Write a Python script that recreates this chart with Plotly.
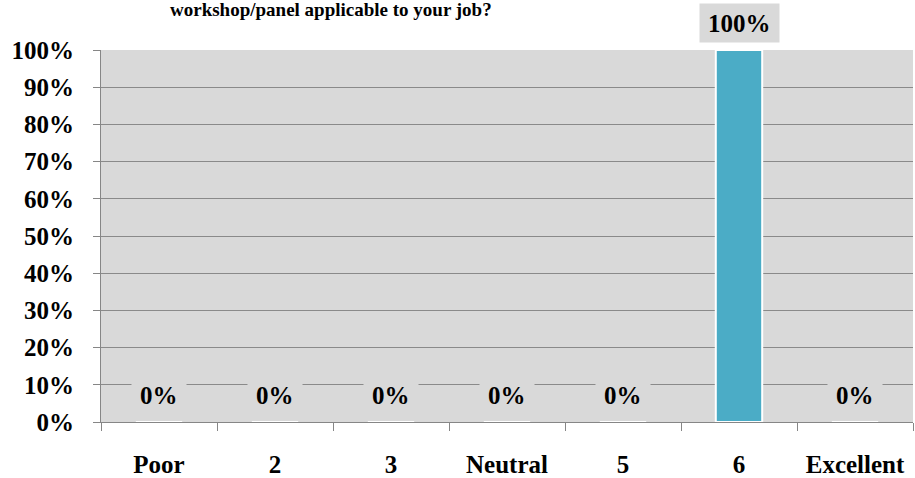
import plotly.graph_objects as go

categories = ["Poor", "2", "3", "Neutral", "5", "6", "Excellent"]
values = [0, 0, 0, 0, 0, 1.0, 0]
title_text = "workshop/panel applicable to your job?"

font_family = "Liberation Serif, Times New Roman, serif"

fig = go.Figure()
fig.add_trace(go.Bar(
    x=categories, y=values,
    marker=dict(color="#4BACC6", line=dict(color="white", width=2)),
    hoverinfo="skip",
))

for i, v in enumerate(values):
    fig.add_annotation(
        x=i, y=v, xref="x", yref="y",
        text=f"{v*100:.0f}%", showarrow=False,
        yanchor="middle", yshift=27,
        font=dict(family=font_family, size=25, color="black", weight="bold"),
        bgcolor="#D9D9D9", borderpad=8, height=22,
    )

fig.add_annotation(
    x=0.283, y=1.110, xref="paper", yref="paper",
    text=title_text, showarrow=False, xanchor="center", yanchor="middle",
    font=dict(family=font_family, size=19, color="black", weight="bold"),
)

fig.update_layout(
    width=915, height=478,
    margin=dict(l=101, r=2, t=50, b=56, autoexpand=False),
    paper_bgcolor="white", plot_bgcolor="#D9D9D9",
    bargap=0.6, showlegend=False,
)
fig.update_xaxes(
    type="category", tickson="boundaries", ticks="outside", ticklen=8,
    tickcolor="#868686", showline=True, linecolor="#868686", linewidth=1,
    showgrid=False, ticklabelstandoff=20, automargin=False,
    tickfont=dict(family=font_family, size=25, color="black", weight="bold"),
)
fig.update_yaxes(
    range=[0, 1], dtick=0.1, tickformat=".0%", ticks="outside", ticklen=7,
    tickcolor="#868686", showline=True, linecolor="#868686", linewidth=1,
    showgrid=True, gridcolor="#8A8A8A", gridwidth=1, zeroline=False,
    ticklabelstandoff=14, automargin=False,
    tickfont=dict(family=font_family, size=25, color="black", weight="bold"),
)

fig.write_html("out.html", config={"displayModeBar": False},
               post_script="document.body.style.margin='0';")
